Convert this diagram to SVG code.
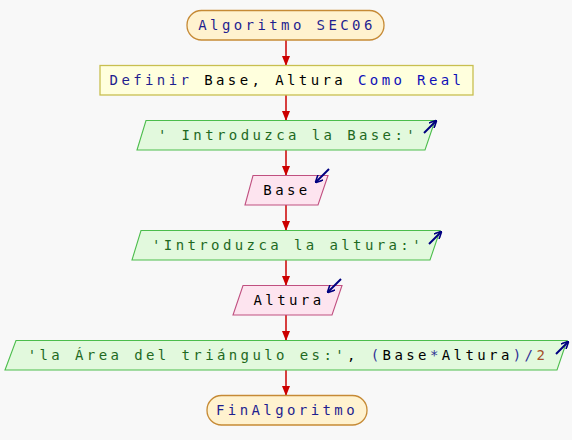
<svg xmlns="http://www.w3.org/2000/svg" width="572" height="440" viewBox="0 0 572 440">
<style>
text{font-family:"DejaVu Sans Mono","Liberation Mono",monospace;font-size:14px;letter-spacing:3.4px;dominant-baseline:central}
.term{fill:#fff2cf;stroke:#c68a35;stroke-width:1.3}
.proc{fill:#ffffdd;stroke:#c8bf50;stroke-width:1.3}
.out{fill:#e2f9dd;stroke:#4cbd4c;stroke-width:1.1}
.inp{fill:#fde4ef;stroke:#c05080;stroke-width:1.1}
.kw{fill:#1f1f8f}
.kw2{fill:#1010b8}
.id{fill:#000}
.str{fill:#1f6a1f}
.num{fill:#a5502a}
.op{fill:#303095}
.con{stroke:#cc0000;stroke-width:1.5;fill:none}
.io{stroke:#000080;stroke-width:2;fill:none}
</style>
<defs>
<marker id="ah" markerWidth="10" markerHeight="8" refX="9" refY="4" orient="auto" markerUnits="userSpaceOnUse">
<path d="M0,0 L10,4 L0,8 z" fill="#cc0000"/>
</marker>
<marker id="ib" markerWidth="8" markerHeight="8" refX="7" refY="4" orient="auto" markerUnits="userSpaceOnUse">
<path d="M0,0 L8,4 L0,8" fill="none" stroke="#000080" stroke-width="1.6"/>
</marker>
</defs>
<rect width="572" height="440" fill="#f8f8f8"/>
<g id="connectors">
<line class="con" x1="286" y1="40" x2="286" y2="65" marker-end="url(#ah)"/>
<line class="con" x1="286" y1="95" x2="286" y2="120" marker-end="url(#ah)"/>
<line class="con" x1="286" y1="150" x2="286" y2="175" marker-end="url(#ah)"/>
<line class="con" x1="286" y1="205" x2="286" y2="230" marker-end="url(#ah)"/>
<line class="con" x1="286" y1="260" x2="286" y2="285" marker-end="url(#ah)"/>
<line class="con" x1="286" y1="315" x2="286" y2="340" marker-end="url(#ah)"/>
<line class="con" x1="286" y1="370" x2="286" y2="395" marker-end="url(#ah)"/>
</g>
<g id="start">
<rect class="term" x="187" y="10.5" width="197" height="29.5" rx="14.5"/>
<text x="287" y="25" text-anchor="middle" class="kw">Algoritmo SEC06</text>
</g>
<g id="define">
<rect class="proc" x="100" y="65.5" width="373" height="29.5"/>
<text x="287" y="80" text-anchor="middle"><tspan class="kw">Definir</tspan><tspan class="id"> Base, Altura </tspan><tspan class="kw2">Como Real</tspan></text>
</g>
<g id="out1">
<polygon class="out" points="146,120.5 435,120.5 425,150 137,150"/>
<text x="288" y="135" text-anchor="middle" class="str">' Introduzca la Base:'</text>
<line class="io" x1="424" y1="133" x2="436" y2="121" marker-end="url(#ib)"/>
</g>
<g id="in1">
<polygon class="inp" points="253,175.5 328,175.5 318,205 245,205"/>
<text x="287" y="190" text-anchor="middle" class="id">Base</text>
<line class="io" x1="329" y1="169" x2="316" y2="182" marker-end="url(#ib)"/>
</g>
<g id="out2">
<polygon class="out" points="141,230.5 440,230.5 430,260 132,260"/>
<text x="288" y="245" text-anchor="middle" class="str">'Introduzca la altura:'</text>
<line class="io" x1="429" y1="244" x2="441" y2="232" marker-end="url(#ib)"/>
</g>
<g id="in2">
<polygon class="inp" points="243,285.5 342,285.5 332,315 233,315"/>
<text x="289" y="300" text-anchor="middle" class="id">Altura</text>
<line class="io" x1="341" y1="279" x2="328" y2="292" marker-end="url(#ib)"/>
</g>
<g id="out3">
<polygon class="out" points="16,340.5 567,340.5 557,370 5,370"/>
<text x="288" y="355" text-anchor="middle"><tspan class="str">'la Área del triángulo es:'</tspan><tspan class="id">, </tspan><tspan class="op">(</tspan><tspan class="id">Base</tspan><tspan class="op">*</tspan><tspan class="id">Altura</tspan><tspan class="op">)/</tspan><tspan class="num">2</tspan></text>
<line class="io" x1="556" y1="354" x2="568" y2="342" marker-end="url(#ib)"/>
</g>
<g id="end">
<rect class="term" x="207" y="395.5" width="160" height="29.5" rx="14.5"/>
<text x="287" y="410" text-anchor="middle" class="kw">FinAlgoritmo</text>
</g>
</svg>
